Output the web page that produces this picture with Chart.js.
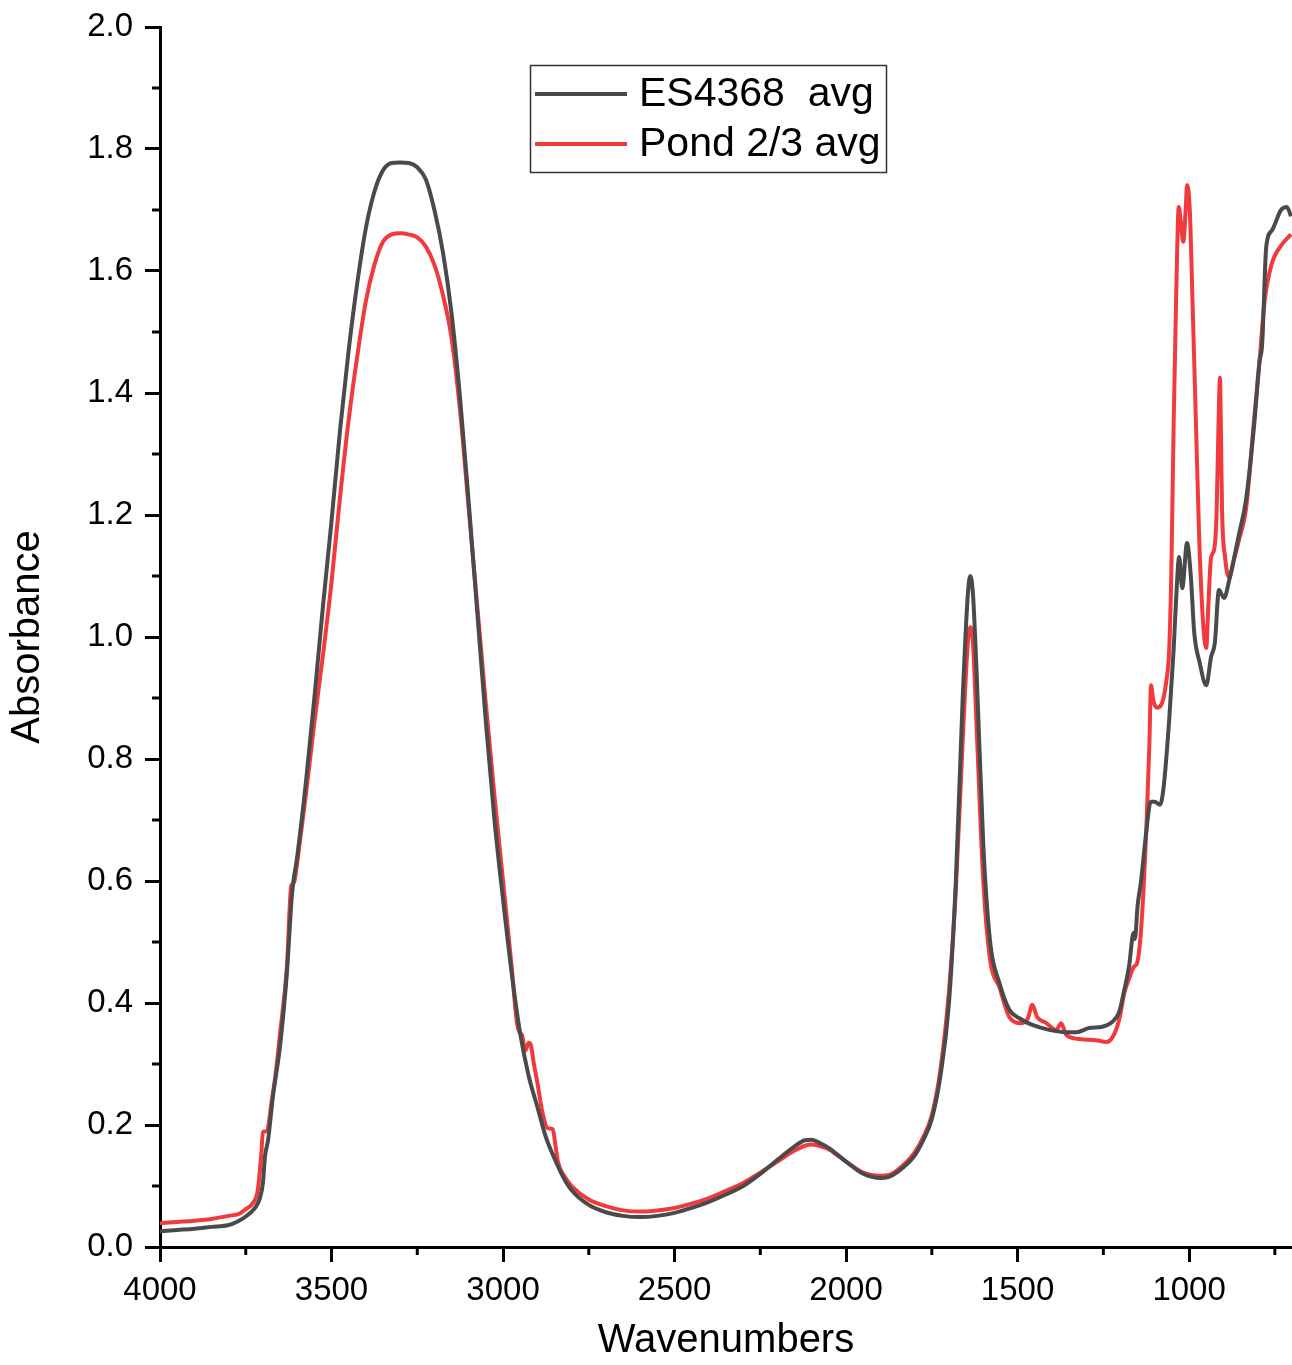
<!DOCTYPE html>
<html>
<head>
<meta charset="utf-8">
<script src="https://cdn.jsdelivr.net/npm/chart.js@4/dist/chart.umd.min.js"></script>
<style>
  body { margin: 0; background: #fff; }
  canvas { display: block; }
</style>
</head>
<body>
<canvas id="chart" width="1292" height="1365"></canvas>
<script>
// ES4368 avg (dark trace)
const esWavenumbers = [4000, 3950, 3900, 3850, 3800, 3767, 3750, 3723, 3710, 3700, 3694, 3685, 3671, 3650, 3630, 3615, 3600,
  3575, 3550, 3525, 3500, 3475, 3450, 3425, 3400, 3375, 3350, 3325, 3300, 3275, 3250, 3225, 3200, 3175, 3150, 3125,
  3100, 3075, 3050, 3025, 3000, 2975, 2950, 2925, 2900, 2875, 2850, 2825, 2800, 2750, 2700, 2650, 2600, 2550, 2500,
  2450, 2400, 2350, 2300, 2250, 2200, 2150, 2120, 2100, 2075, 2050, 2000, 1950, 1900, 1875, 1850, 1800, 1775, 1750,
  1725, 1700, 1680, 1660, 1645, 1638, 1630, 1620, 1600, 1580, 1553, 1524, 1495, 1457, 1408, 1358, 1329, 1291, 1253,
  1224, 1204, 1189, 1175, 1162, 1158, 1150, 1140, 1125, 1112, 1100, 1085, 1075, 1058, 1045, 1038, 1029, 1020, 1006,
  995, 985, 970, 950, 936, 925, 913, 898, 883, 854, 834, 810, 795, 787, 775, 758, 732, 715, 703];
const esAbsorbance = [0.026, 0.028, 0.030, 0.033, 0.036, 0.044, 0.050, 0.064, 0.078, 0.105, 0.148, 0.175, 0.246, 0.33, 0.45, 0.58, 0.64,
  0.76, 0.90, 1.05, 1.19, 1.34, 1.47, 1.58, 1.67, 1.73, 1.765, 1.777, 1.778, 1.777, 1.77, 1.75, 1.70, 1.63, 1.53, 1.39,
  1.22, 1.04, 0.86, 0.70, 0.57, 0.45, 0.35, 0.28, 0.23, 0.18, 0.145, 0.115, 0.093, 0.069, 0.057, 0.051, 0.049, 0.051, 0.056,
  0.064, 0.074, 0.086, 0.10, 0.12, 0.143, 0.165, 0.175, 0.176, 0.17, 0.162, 0.14, 0.12, 0.113, 0.115, 0.123, 0.15, 0.175, 0.21,
  0.28, 0.40, 0.60, 0.90, 1.07, 1.10, 1.07, 0.95, 0.66, 0.50, 0.433, 0.389, 0.375, 0.364, 0.356, 0.352, 0.352, 0.359, 0.361,
  0.369, 0.385, 0.421, 0.46, 0.515, 0.505, 0.56, 0.60, 0.68, 0.73, 0.73, 0.725, 0.75, 0.864, 0.98, 1.06, 1.131, 1.08, 1.154,
  1.10, 1.007, 0.96, 0.921, 0.967, 0.99, 1.077, 1.064, 1.093, 1.17, 1.225, 1.35, 1.45, 1.48, 1.64, 1.667, 1.70, 1.705, 1.69];

// Pond 2/3 avg (red trace)
const pondWavenumbers = [4000, 3950, 3900, 3850, 3800, 3767, 3750, 3729, 3715, 3705, 3700, 3688, 3685, 3674, 3665, 3650, 3630,
  3618, 3614, 3608, 3600, 3575, 3550, 3525, 3500, 3475, 3450, 3425, 3400, 3375, 3350, 3325, 3300, 3275, 3250, 3225,
  3200, 3175, 3150, 3125, 3100, 3075, 3050, 3025, 3000, 2975, 2960, 2950, 2945, 2935, 2925, 2920, 2910, 2900, 2885,
  2870, 2855, 2848, 2840, 2820, 2800, 2750, 2700, 2650, 2600, 2550, 2500, 2450, 2400, 2350, 2300, 2250, 2200, 2150,
  2120, 2100, 2075, 2050, 2000, 1950, 1900, 1875, 1850, 1800, 1775, 1750, 1725, 1700, 1680, 1660, 1645, 1638, 1630,
  1620, 1600, 1580, 1553, 1524, 1489, 1470, 1457, 1443, 1416, 1387, 1373, 1358, 1320, 1271, 1242, 1224, 1204, 1189,
  1175, 1160, 1152, 1140, 1125, 1116, 1111, 1104, 1093, 1080, 1067, 1058, 1052, 1045, 1038, 1030, 1024, 1017, 1010,
  1006, 998, 990, 980, 971, 960, 950, 944, 936, 927, 920, 913, 910, 907, 904, 895, 883, 870, 854, 834, 810, 795, 780,
  760, 730, 703];
const pondAbsorbance = [0.039, 0.041, 0.043, 0.046, 0.051, 0.055, 0.062, 0.072, 0.093, 0.150, 0.189, 0.19, 0.195, 0.241, 0.274, 0.35, 0.46,
  0.59, 0.595, 0.60, 0.63, 0.74, 0.86, 0.97, 1.09, 1.23, 1.356, 1.46, 1.55, 1.61, 1.648, 1.66, 1.662, 1.66, 1.655, 1.64,
  1.61, 1.56, 1.49, 1.37, 1.21, 1.05, 0.89, 0.74, 0.60, 0.46, 0.37, 0.35, 0.348, 0.322, 0.335, 0.333, 0.30, 0.27, 0.22,
  0.195, 0.193, 0.17, 0.14, 0.115, 0.10, 0.078, 0.067, 0.060, 0.058, 0.060, 0.064, 0.071, 0.08, 0.092, 0.105, 0.122, 0.14, 0.158,
  0.166, 0.168, 0.165, 0.16, 0.14, 0.122, 0.117, 0.118, 0.126, 0.155, 0.18, 0.216, 0.29, 0.42, 0.585, 0.83, 0.99, 1.016, 0.99,
  0.86, 0.60, 0.47, 0.426, 0.377, 0.367, 0.375, 0.397, 0.377, 0.367, 0.356, 0.367, 0.348, 0.341, 0.339, 0.336, 0.343, 0.372, 0.416,
  0.44, 0.46, 0.465, 0.52, 0.68, 0.82, 0.921, 0.895, 0.884, 0.89, 0.925, 0.98, 1.1, 1.35, 1.55, 1.705, 1.68, 1.648, 1.70,
  1.741, 1.70, 1.55, 1.35, 1.17, 1.03, 0.982, 1.05, 1.13, 1.143, 1.20, 1.38, 1.425, 1.33, 1.21, 1.13, 1.098, 1.125, 1.16, 1.21, 1.36, 1.45, 1.55,
  1.61, 1.643, 1.66];

const xTicks = [4000, 3500, 3000, 2500, 2000, 1500, 1000];
const xMinorTicks = [3750, 3250, 2750, 2250, 1750, 1250, 750];
const yTicks = [0, 0.2, 0.4, 0.6, 0.8, 1.0, 1.2, 1.4, 1.6, 1.8, 2.0];
const yMinorTicks = [0.1, 0.3, 0.5, 0.7, 0.9, 1.1, 1.3, 1.5, 1.7, 1.9];

const FONT = "'Liberation Sans', Arial, sans-serif";

const toPoints = (xs, ys) => xs.map((x, i) => ({x: x, y: ys[i]}));

// minor ticks + boxed legend inside the plot
const extras = {
    id: 'extras',
    afterDraw(chart) {
        const ctx = chart.ctx;
        const xs = chart.scales.x, ys = chart.scales.y;
        const area = chart.chartArea;
        ctx.save();
        ctx.strokeStyle = '#000';
        ctx.lineWidth = 3;
        xMinorTicks.forEach(v => {
            const px = xs.getPixelForValue(v);
            ctx.beginPath();
            ctx.moveTo(px, area.bottom);
            ctx.lineTo(px, area.bottom + 8);
            ctx.stroke();
        });
        yMinorTicks.forEach(v => {
            const py = ys.getPixelForValue(v);
            ctx.beginPath();
            ctx.moveTo(area.left - 8, py);
            ctx.lineTo(area.left, py);
            ctx.stroke();
        });

        // legend
        const bx = 530, by = 65, bw = 356, bh = 107;
        ctx.fillStyle = '#fff';
        ctx.fillRect(bx, by, bw, bh);
        ctx.lineWidth = 1.5;
        ctx.strokeStyle = '#333';
        ctx.strokeRect(bx + 0.5, by + 0.5, bw, bh);
        ctx.font = '41px ' + FONT;
        ctx.textBaseline = 'middle';
        ctx.fillStyle = '#000';
        chart.data.datasets.forEach((ds, i) => {
            const ly = 94 + i * 50;
            ctx.strokeStyle = ds.borderColor;
            ctx.lineWidth = 4;
            ctx.beginPath();
            ctx.moveTo(535, ly);
            ctx.lineTo(627, ly);
            ctx.stroke();
            ctx.fillText(ds.label, 639, ly + 1);
        });
        ctx.restore();
    }
};

new Chart(document.getElementById('chart'), {
    type: 'line',
    data: {
        datasets: [
            {
                label: 'ES4368  avg',
                data: toPoints(esWavenumbers, esAbsorbance),
                borderColor: '#4a4a4a',
                borderWidth: 4,
                pointRadius: 0,
                cubicInterpolationMode: 'monotone',
                fill: false
            },
            {
                label: 'Pond 2/3 avg',
                data: toPoints(pondWavenumbers, pondAbsorbance),
                borderColor: '#f03a3d',
                borderWidth: 4,
                pointRadius: 0,
                cubicInterpolationMode: 'monotone',
                fill: false
            }
        ]
    },
    options: {
        responsive: false,
        animation: false,
        layout: {padding: {top: 27, right: 0, left: 0, bottom: 0}},
        plugins: {
            legend: {display: false},
            tooltip: {enabled: false}
        },
        scales: {
            x: {
                type: 'linear',
                reverse: true,
                min: 700,
                max: 4000,
                afterBuildTicks: (scale) => { scale.ticks = xTicks.map(v => ({value: v})); },
                afterFit: (scale) => { scale.height = 118; scale.paddingRight = 0; },
                border: {display: true, color: '#000', width: 3},
                grid: {drawOnChartArea: false, drawTicks: true, tickLength: 15, tickWidth: 3, tickColor: '#000'},
                ticks: {color: '#000', font: {family: FONT, size: 33}, padding: 9, maxRotation: 0,
                        callback: (v) => String(v)},
                title: {display: true, text: 'Wavenumbers', color: '#000', font: {family: FONT, size: 40}, padding: {top: 0, bottom: 0}}
            },
            y: {
                type: 'linear',
                min: 0,
                max: 2.0,
                afterBuildTicks: (scale) => { scale.ticks = yTicks.map(v => ({value: v})); },
                afterFit: (scale) => { scale.width = 160; scale.paddingTop = 0; scale.paddingBottom = 0; },
                border: {display: true, color: '#000', width: 3},
                grid: {drawOnChartArea: false, drawTicks: true, tickLength: 15, tickWidth: 3, tickColor: '#000'},
                ticks: {color: '#000', font: {family: FONT, size: 33}, padding: 12, callback: (v) => v.toFixed(1)},
                title: {display: true, text: 'Absorbance', color: '#000', font: {family: FONT, size: 40}, padding: {top: 4, bottom: 0}}
            }
        }
    },
    plugins: [extras]
});
</script>
</body>
</html>
